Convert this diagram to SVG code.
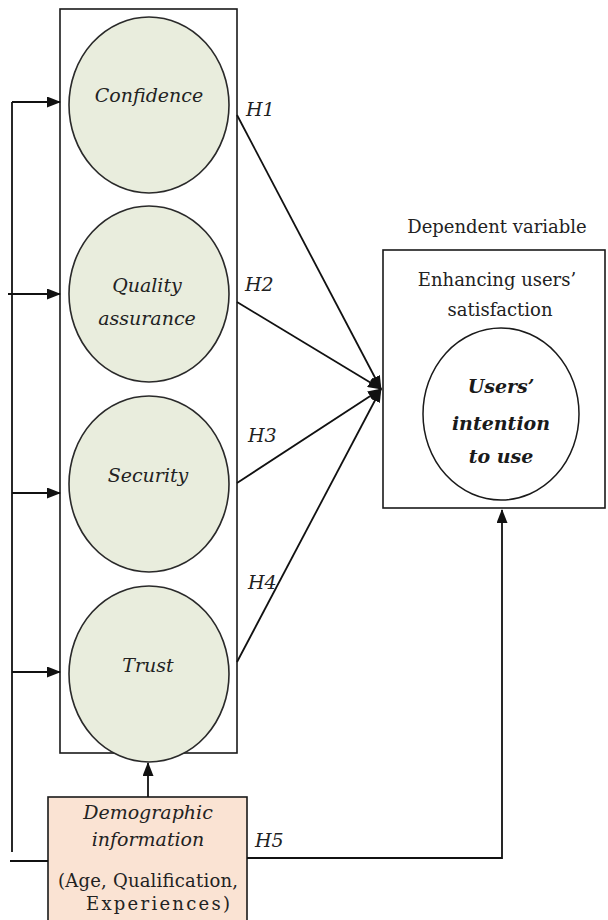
<svg xmlns="http://www.w3.org/2000/svg" width="608" height="920" viewBox="0 0 608 920">
  <style>
    .box { fill: #ffffff; stroke: #1a1a1a; stroke-width: 1.6; }
    .iv { fill: #e9eddd; stroke: #2a2a2a; stroke-width: 1.6; }
    .demo { fill: #fae3d3; stroke: #1a1a1a; stroke-width: 1.6; }
    .dv { fill: #ffffff; stroke: #1a1a1a; stroke-width: 1.5; }
    .wire { fill: none; stroke: #111111; stroke-width: 1.8; }
    text { font-family: 'DejaVu Serif', 'Liberation Serif', serif; fill: #222222; }
    .lbl { font-style: italic; font-size: 19px; text-anchor: middle; }
    .hyp { font-style: italic; font-size: 19px; }
    .plain { font-size: 18px; text-anchor: middle; }
    .bold { font-style: italic; font-weight: bold; font-size: 19px; fill: #1a1a1a; text-anchor: middle; }
  </style>
  <defs>
    <marker id="arrow" viewBox="0 0 14 11" refX="13" refY="5.5" markerWidth="14" markerHeight="11" markerUnits="userSpaceOnUse" orient="auto">
      <path d="M0,0 L14,5.5 L0,11 Z" fill="#111111"/>
    </marker>
  </defs>

  <!-- frame around the independent variables -->
  <rect id="iv-frame" class="box" x="60" y="9" width="177" height="744"/>

  <g id="confidence">
    <ellipse class="iv" cx="149" cy="105" rx="80" ry="88"/>
    <text class="lbl" x="149" y="102">Confidence</text>
  </g>
  <g id="quality">
    <ellipse class="iv" cx="149" cy="294" rx="80" ry="88"/>
    <text class="lbl" x="147" y="292">Quality</text>
    <text class="lbl" x="147" y="325">assurance</text>
  </g>
  <g id="security">
    <ellipse class="iv" cx="149" cy="484" rx="80" ry="88"/>
    <text class="lbl" x="148" y="482">Security</text>
  </g>
  <g id="trust">
    <ellipse class="iv" cx="149" cy="674" rx="80" ry="88"/>
    <text class="lbl" x="148" y="672">Trust</text>
  </g>

  <g id="demographic">
    <rect class="demo" x="48" y="797" width="199" height="124"/>
    <text class="lbl" x="148" y="819" font-size="17">Demographic</text>
    <text class="lbl" x="148" y="846" font-size="17">information</text>
    <text class="plain" x="148" y="887" textLength="180" lengthAdjust="spacing">(Age, Qualification,</text>
    <text class="plain" x="158" y="910" textLength="144" lengthAdjust="spacing">Experiences)</text>
  </g>

  <g id="dependent">
    <text class="plain" x="497" y="233">Dependent variable</text>
    <rect class="box" x="383" y="250" width="222" height="258"/>
    <text class="plain" x="497" y="286">Enhancing users’</text>
    <text class="plain" x="500" y="316">satisfaction</text>
    <ellipse class="dv" cx="501" cy="414" rx="78" ry="86"/>
    <text class="bold" x="501" y="393">Users’</text>
    <text class="bold" x="501" y="430">intention</text>
    <text class="bold" x="501" y="463">to use</text>
  </g>

  <g id="connectors">
    <!-- demographic feedback into each construct -->
    <path class="wire" d="M12,852 V102"/>
    <path class="wire" d="M12,102 H60" marker-end="url(#arrow)"/>
    <path class="wire" d="M8,294 H60" marker-end="url(#arrow)"/>
    <path class="wire" d="M12,493 H60" marker-end="url(#arrow)"/>
    <path class="wire" d="M12,672 H60" marker-end="url(#arrow)"/>
    <path class="wire" d="M10,861 H48"/>
    <path class="wire" d="M148,797 V763" marker-end="url(#arrow)"/>

    <!-- hypotheses H1-H4 -->
    <path class="wire" d="M237,115 L381,389" marker-end="url(#arrow)"/>
    <path class="wire" d="M237,302 L381,389" marker-end="url(#arrow)"/>
    <path class="wire" d="M237,483 L381,389" marker-end="url(#arrow)"/>
    <path class="wire" d="M237,662 L381,389" marker-end="url(#arrow)"/>

    <!-- hypothesis H5 -->
    <path class="wire" d="M247,858 H502 V510" marker-end="url(#arrow)"/>

    <text class="hyp" x="246" y="116">H1</text>
    <text class="hyp" x="245" y="291">H2</text>
    <text class="hyp" x="248" y="442">H3</text>
    <text class="hyp" x="248" y="589">H4</text>
    <text class="hyp" x="255" y="847">H5</text>
  </g>
</svg>
